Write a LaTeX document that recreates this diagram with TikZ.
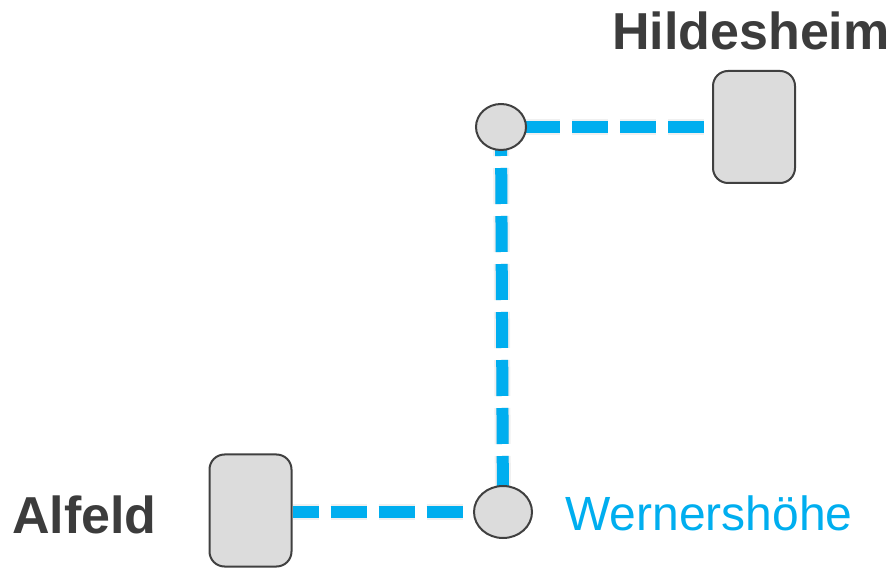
\documentclass[tikz,border=0pt]{standalone}
\usepackage{fontspec}
\setmainfont{Liberation Sans}
\usetikzlibrary{shapes.geometric,backgrounds}
\definecolor{txtgray}{HTML}{3C3C3C}
\definecolor{linecyan}{HTML}{00AEEF}
\definecolor{boxfill}{HTML}{DCDCDC}
\definecolor{boxline}{HTML}{404040}
\tikzset{
  station/.style={rectangle, rounded corners=15pt, draw=boxline, line width=2pt, fill=boxfill, minimum width=82pt, minimum height=112pt, inner sep=0pt},
  halt/.style={ellipse, draw=boxline, line width=2pt, fill=boxfill, inner sep=0pt},
  track/.style={draw=linecyan, line width=12pt, dash pattern=on 36pt off 12pt},
  trackshadow/.style={draw=black, opacity=0.10, line width=12pt, dash pattern=on 36pt off 12pt},
  trackshadowwide/.style={draw=black, opacity=0.06, line width=16pt, dash pattern=on 36pt off 12pt},
  boldlabel/.style={text=txtgray, font=\fontsize{52}{60}\selectfont\bfseries, inner sep=0pt, anchor=base west},
  bluelabel/.style={text=linecyan, font=\fontsize{48}{56}\selectfont, inner sep=0pt, anchor=base west}
}
\begin{document}
\begin{tikzpicture}[x=1pt,y=-1pt]
\useasboundingbox (0,0) rectangle (895,569);
% nodes
\node[station] (hild) at (754,127) {};
\node[station] (alf) at (250.5,510.5) {};
\node[halt, minimum width=50pt, minimum height=46pt] (top) at (501,127) {};
\node[halt, minimum width=58pt, minimum height=52pt] (wern) at (503,512) {};
\node[boldlabel] (hildlabel) at (612,50) {Hildesheim};
\node[boldlabel] (alflabel) at (12,533) {Alfeld};
\node[bluelabel] (wernlabel) at (565,530) {Wernershöhe};
% tracks
\begin{pgfonlayer}{background}
  \begin{scope}[yshift=-5pt]
    \draw[trackshadowwide, dash phase=25pt] (top.center) -- (hild.west |- top.center);
    \draw[trackshadowwide, dash phase=7pt] (top.center) -- (wern.center);
    \draw[trackshadowwide, dash phase=10pt] (alf.east |- wern.center) -- (wern.center);
  \end{scope}
  \begin{scope}[yshift=-4pt]
    \draw[trackshadow, dash phase=25pt] (top.center) -- (hild.west |- top.center);
    \draw[trackshadow, dash phase=7pt] (top.center) -- (wern.center);
    \draw[trackshadow, dash phase=10pt] (alf.east |- wern.center) -- (wern.center);
  \end{scope}
  \draw[track, dash phase=25pt] (top.center) -- (hild.west |- top.center);
  \draw[track, dash phase=7pt] (top.center) -- (wern.center);
  \draw[track, dash phase=10pt] (alf.east |- wern.center) -- (wern.center);
\end{pgfonlayer}
\end{tikzpicture}
\end{document}
